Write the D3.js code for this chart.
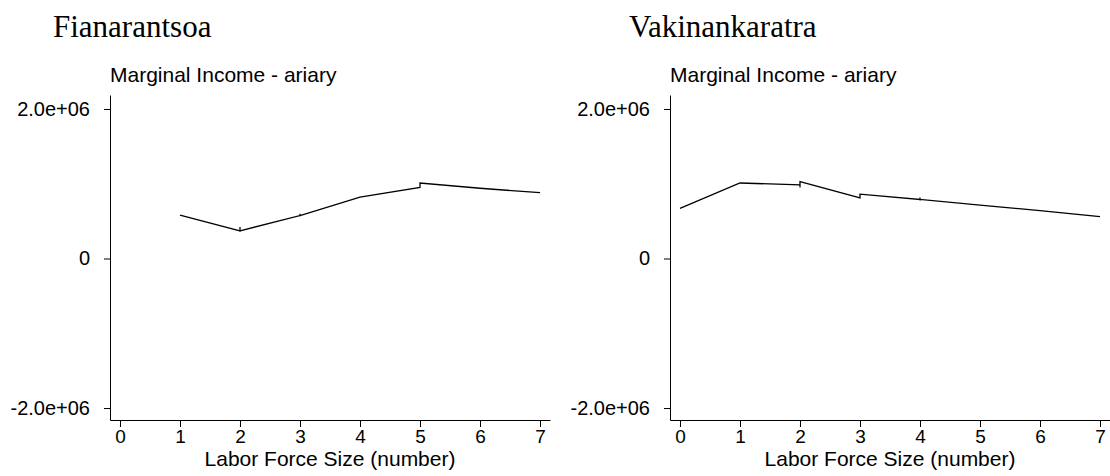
<!DOCTYPE html>
<html>
<head>
<meta charset="utf-8">
<script src="https://cdn.jsdelivr.net/npm/d3@7"></script>
<style>
  body { margin: 0; background: #fff; }
  svg { display: block; }
</style>
</head>
<body>
<div id="chart"></div>
<script>
// panel titles
var panelTitles = ["Fianarantsoa", "Vakinankaratra"]
var yTitle = "Marginal Income - ariary"
var xTitle = "Labor Force Size (number)"

// tick labels
var xTicks = [0, 1, 2, 3, 4, 5, 6, 7]
var yTicks = [-2000000, 0, 2000000]

// Fianarantsoa curve (repeated x = small jumps in the fitted line)
var fianX = [1, 2, 2, 2, 3, 3, 3, 4, 5, 5, 6, 7]
var fianY = [580000, 370000, 420000, 370000, 575000, 600000, 575000, 820000, 950000, 1010000, 940000, 880000]

// Vakinankaratra curve
var vakiX = [0, 1, 2, 2, 2, 3, 3, 4, 4, 4, 4, 5, 6, 7]
var vakiY = [670000, 1010000, 985000, 950000, 1030000, 810000, 860000, 790000, 815000, 775000, 790000, 715000, 640000, 560000]

var series = [
  d3.zip(fianX, fianY),
  d3.zip(vakiX, vakiY)
]

var width = 1110,
    height = 476

var svg = d3.select("#chart").append("svg")
    .attr("width", width)
    .attr("height", height)

// panel layout
var panelOffset = [0, 560]
var titleX = [53, 629]
var margin = {left: 110, right: 10, top: 95, bottom: 56}
var plotW = 440

var x = d3.scaleLinear()
    .domain([-1/6, 7 + 1/6])
    .range([margin.left, margin.left + plotW])

var y = d3.scaleLinear()
    .domain([-2160000, 2187000])
    .range([height - margin.bottom, margin.top])

var yFmt = function(d) {
  if (d === 0) return "0"
  return (d < 0 ? "-" : "") + "2.0e+06"
}

var line = d3.line()
    .x(function(d) { return x(d[0]) })
    .y(function(d) { return y(d[1]) })

panelTitles.forEach(function(name, i) {

  var g = svg.append("g")
      .attr("transform", "translate(" + panelOffset[i] + ",0)")

  // big serif panel title
  svg.append("text")
      .attr("x", titleX[i])
      .attr("y", 36.7)
      .style("font-family", "'Liberation Serif', 'Times New Roman', serif")
      .style("font-size", "31px")
      .attr("fill", "#000")
      .text(name)

  // y axis title above the axis
  g.append("text")
      .attr("x", margin.left)
      .attr("y", 81.7)
      .style("font-family", "'Liberation Sans', Arial, sans-serif")
      .style("font-size", "21px")
      .attr("fill", "#000")
      .text(yTitle)

  // y axis
  var yAxis = g.append("g")
      .attr("transform", "translate(" + margin.left + ",0)")
      .call(d3.axisLeft(y).tickValues(yTicks).tickFormat(yFmt).tickSize(6).tickSizeOuter(0).tickPadding(14))
  yAxis.selectAll("text")
      .style("font-family", "'Liberation Sans', Arial, sans-serif")
      .style("font-size", "20px")
      .attr("fill", "#000")

  // x axis
  var xAxis = g.append("g")
      .attr("transform", "translate(0," + (height - margin.bottom) + ")")
      .call(d3.axisBottom(x).tickValues(xTicks).tickFormat(d3.format("d")).tickSize(7).tickSizeOuter(0).tickPadding(3))
  xAxis.selectAll("text")
      .style("font-family", "'Liberation Sans', Arial, sans-serif")
      .style("font-size", "19px")
      .attr("fill", "#000")

  g.selectAll(".domain, .tick line").attr("stroke", "#000").attr("stroke-width", 1)

  // x axis title
  g.append("text")
      .attr("x", (x(0) + x(7)) / 2)
      .attr("y", 465.5)
      .attr("text-anchor", "middle")
      .style("font-family", "'Liberation Sans', Arial, sans-serif")
      .style("font-size", "21px")
      .attr("fill", "#000")
      .text(xTitle)

  // the fitted line
  g.append("path")
      .datum(series[i])
      .attr("fill", "none")
      .attr("stroke", "#000")
      .attr("stroke-width", 1.3)
      .attr("d", line)
})
</script>
</body>
</html>
